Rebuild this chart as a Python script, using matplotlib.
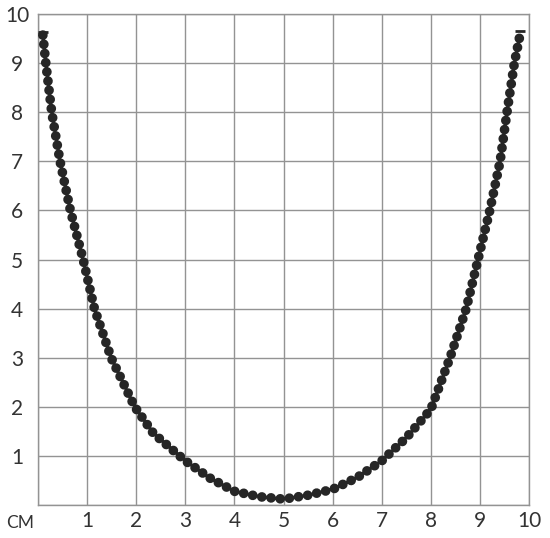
import matplotlib
matplotlib.use("Agg")
import matplotlib.pyplot as plt

# necklace path, left end -> bottom -> right end
bead_x = [0.10, 0.16, 0.28, 0.45, 0.66, 0.92, 1.15, 1.49, 1.97,
          2.35, 3.00, 3.50, 4.00, 4.50, 5.00,
          5.50, 6.00, 6.50, 7.00, 7.50, 8.00, 8.39, 8.72, 8.96,
          9.20, 9.41, 9.55, 9.70, 9.82]
bead_y = [9.57, 9.00, 8.00, 7.00, 6.00, 5.00, 4.00, 3.00, 2.00,
          1.46, 0.90, 0.55, 0.28, 0.17, 0.12,
          0.20, 0.32, 0.56, 0.90, 1.37, 1.95, 3.00, 4.00, 5.00,
          6.00, 7.00, 8.00, 9.00, 9.60]

x_ticks = [1, 2, 3, 4, 5, 6, 7, 8, 9, 10]
y_ticks = [1, 2, 3, 4, 5, 6, 7, 8, 9, 10]
unit_label = "СМ"

text_color = "#333333"
grid_color = "#939393"
bead_color = "#262626"

fig = plt.figure(figsize=(5.5, 5.38), dpi=100)
ax = fig.add_axes([0.069, 0.0613, 0.893, 0.9127])

ax.set_xlim(0, 10)
ax.set_ylim(0, 10)
ax.set_xticks(range(0, 11))
ax.set_yticks(range(0, 11))
ax.grid(True, color=grid_color, linewidth=1.0)
ax.set_axisbelow(True)
for sp in ax.spines.values():
    sp.set_color(grid_color)
    sp.set_linewidth(1.0)

ax.set_xticklabels([""] + [str(t) for t in x_ticks])
ax.set_yticklabels([""] + [str(t) for t in y_ticks])
ax.tick_params(length=0, labelcolor=text_color, labelsize=15)
ax.tick_params(axis="x", pad=4)
ax.tick_params(axis="y", pad=15)
for lab in ax.get_xticklabels() + ax.get_yticklabels():
    lab.set_family("Lato")
for lab in ax.get_yticklabels():
    lab.set_horizontalalignment("center")

# the beads
ax.plot(bead_x, bead_y, color=bead_color, linewidth=7.0,
        linestyle=(0, (0.001, 0.95)), dash_capstyle="round",
        solid_joinstyle="round", zorder=3)
# clasp caps at both ends
ax.plot([bead_x[0], bead_x[-1]], [bead_y[0] + 0.06, bead_y[-1] + 0.06],
        linestyle="none", marker="_", markersize=7, markeredgewidth=2.0,
        color=bead_color, zorder=4)

ax.text(-0.37, -0.36, unit_label, transform=ax.transData, ha="center",
        va="center", fontsize=12.5, color=text_color, family="Lato",
        clip_on=False)

fig.savefig("out.png", dpi=100)
